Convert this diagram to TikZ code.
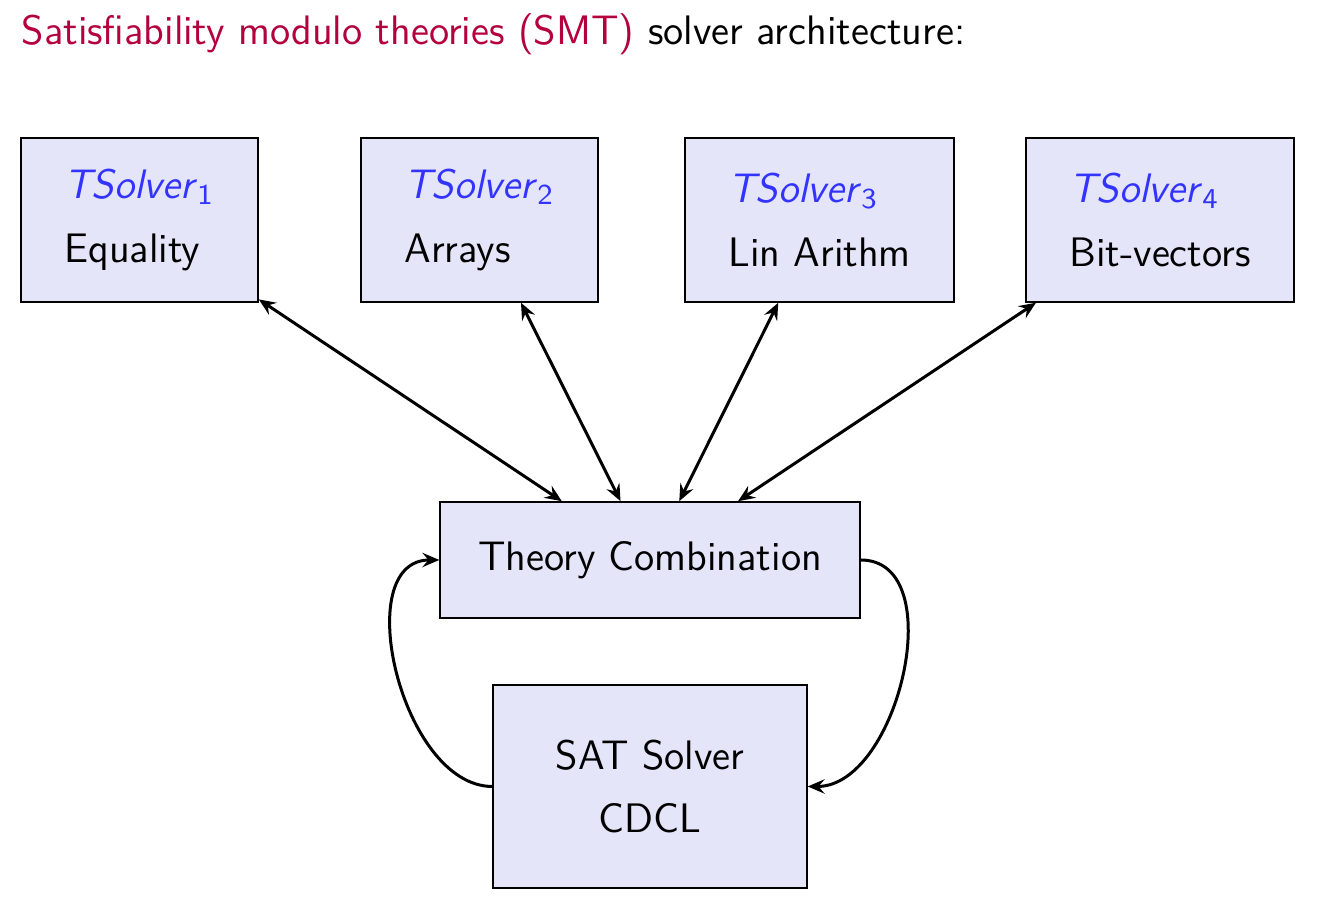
\documentclass[tikz,border=0pt]{standalone}
\usetikzlibrary{arrows.meta}
\definecolor{boxfill}{RGB}{229,229,250}
\definecolor{tsblue}{RGB}{51,51,255}
\definecolor{alertred}{RGB}{180,0,60}
\begin{document}
\begin{tikzpicture}[x=0.267pt, y=-0.267pt,
  every node/.style={font=\sffamily\fontsize{11}{13}\selectfont},
  tbox/.style={draw=black, thin, fill=boxfill, inner sep=0pt, align=left, minimum height=43.8pt},
  cbox/.style={draw=black, thin, fill=boxfill, inner sep=0pt, align=center},
  link/.style={thick, {Stealth[length=4.5pt,width=3.8pt,inset=1.6pt]}-{Stealth[length=4.5pt,width=3.8pt,inset=1.6pt]}},
  loop/.style={thick, -{Stealth[length=4.5pt,width=3.8pt,inset=1.6pt]}}]
\useasboundingbox (0,0) rectangle (1319,904);
\node[anchor=base west, inner sep=0pt] (title) at (21,45) {\textcolor{alertred}{Satisfiability modulo theories (SMT)} solver architecture:};
\newcommand\tsol[1]{\textcolor{tsblue}{\textit{TSolver}\textsubscript{#1}}}
\node[tbox, minimum width=63.3pt] (ts1) at (139.5,220) {\tsol{1}\\[4pt]Equality};
\node[tbox, minimum width=63.3pt] (ts2) at (479.5,220) {\tsol{2}\\[4pt]Arrays};
\node[tbox, minimum width=71.8pt] (ts3) at (819.5,220) {\tsol{3}\\[4pt]Lin Arithm};
\node[tbox, minimum width=71.6pt] (ts4) at (1160,220) {\tsol{4}\\[4pt]Bit-vectors};
\node[cbox, minimum width=112.1pt, minimum height=31pt] (tc) at (650,560) {Theory Combination};
\node[cbox, minimum width=83.8pt, minimum height=54.2pt] (sat) at (650,786.5) {SAT Solver\\[4pt]CDCL};
\draw[link] (ts1) -- (tc);
\draw[link] (ts2) -- (tc);
\draw[link] (ts3) -- (tc);
\draw[link] (ts4) -- (tc);
\draw[loop] (sat.west) to[out=180, in=180] (tc.west);
\draw[loop] (tc.east) to[out=0, in=0] (sat.east);
\end{tikzpicture}
\end{document}
